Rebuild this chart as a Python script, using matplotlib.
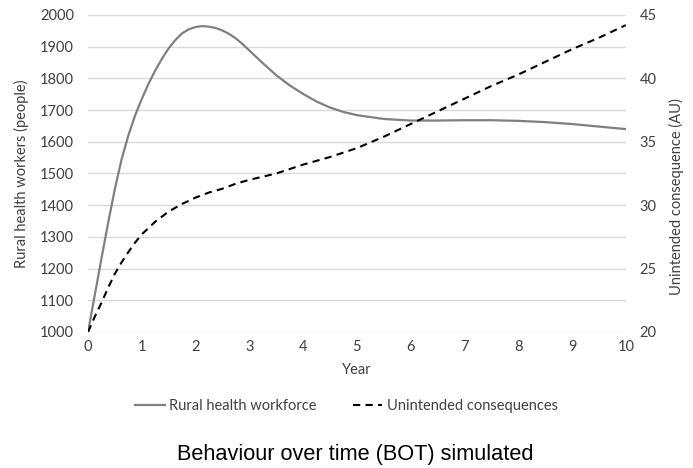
import matplotlib.pyplot as plt

years = [0, 0.125, 0.25, 0.375, 0.5, 0.625, 0.75, 0.875, 1, 1.125, 1.25, 1.375, 1.5, 1.625,
         1.75, 1.875, 2, 2.125, 2.25, 2.375, 2.5, 2.625, 2.75, 2.875, 3, 3.25, 3.5, 3.75, 4,
         4.25, 4.5, 4.75, 5, 5.5, 6, 6.5, 7, 7.5, 8, 8.5, 9, 9.5, 10]
workforce = [1000, 1116, 1232, 1345, 1452, 1545, 1620, 1683, 1735, 1783, 1825, 1862, 1895,
             1921, 1942, 1955, 1962, 1965, 1963, 1959, 1951, 1940, 1926, 1908, 1888, 1848,
             1810, 1778, 1751, 1727, 1708, 1694, 1684, 1672, 1667, 1667, 1668, 1668, 1666,
             1662, 1656, 1648, 1640]
consequences = [20, 21.2, 22.3, 23.5, 24.6, 25.5, 26.3, 27.05, 27.7, 28.2, 28.7, 29.1, 29.5,
                29.8, 30.1, 30.35, 30.6, 30.8, 31.0, 31.15, 31.3, 31.5, 31.7, 31.85, 32.0,
                32.25, 32.5, 32.85, 33.2, 33.5, 33.8, 34.15, 34.5, 35.4, 36.4, 37.4, 38.4,
                39.4, 40.3, 41.3, 42.3, 43.2, 44.2]

plt.rcParams['font.family'] = ['Lato', 'DejaVu Sans']
txt = '#404040'

fig = plt.figure(figsize=(6.93, 4.68), dpi=100)
ax = fig.add_axes([0.127, 0.2906, 0.776, 0.6774])
ax2 = ax.twinx()

l1, = ax.plot(years, workforce, color='#808080', lw=1.6, label='Rural health workforce')
l2, = ax2.plot(years, consequences, color='black', lw=1.5, dashes=(3.5, 2.5),
               label='Unintended consequences')

ax.set_xlim(0, 10)
ax.set_ylim(1000, 2000)
ax2.set_ylim(20, 45)
ax.set_xticks(range(0, 11))
ax.set_yticks(range(1000, 2001, 100))
ax2.set_yticks(range(20, 46, 5))
ax.grid(axis='y', color='#d9d9d9', lw=1)
ax.set_axisbelow(True)

for a in (ax, ax2):
    for s in a.spines.values():
        s.set_visible(False)
    a.tick_params(length=0, labelsize=10.5, colors=txt)
ax.tick_params(axis='y', pad=10)
ax2.tick_params(axis='y', pad=10)
ax.tick_params(axis='x', pad=6)

ax.set_xlabel('Year', fontsize=10.5, color=txt, labelpad=6)
ax.set_ylabel('Rural health workers (people)', fontsize=10.5, color=txt, labelpad=8)
ax2.set_ylabel('Unintended consequence (AU)', fontsize=10.5, color=txt)
ax2.yaxis.set_label_coords(1.08, 0.426)

fig.legend(handles=[l1, l2], loc='center', bbox_to_anchor=(0.5, 0.132), ncol=2,
           frameon=False, fontsize=10.5, handlelength=2, columnspacing=2.5,
           handletextpad=0.3, labelcolor=txt)

fig.text(0.512, 0.028, 'Behaviour over time (BOT) simulated', ha='center', va='center',
         fontsize=15.7, family='Liberation Sans', color='black')

fig.savefig('out.png', dpi=100)
